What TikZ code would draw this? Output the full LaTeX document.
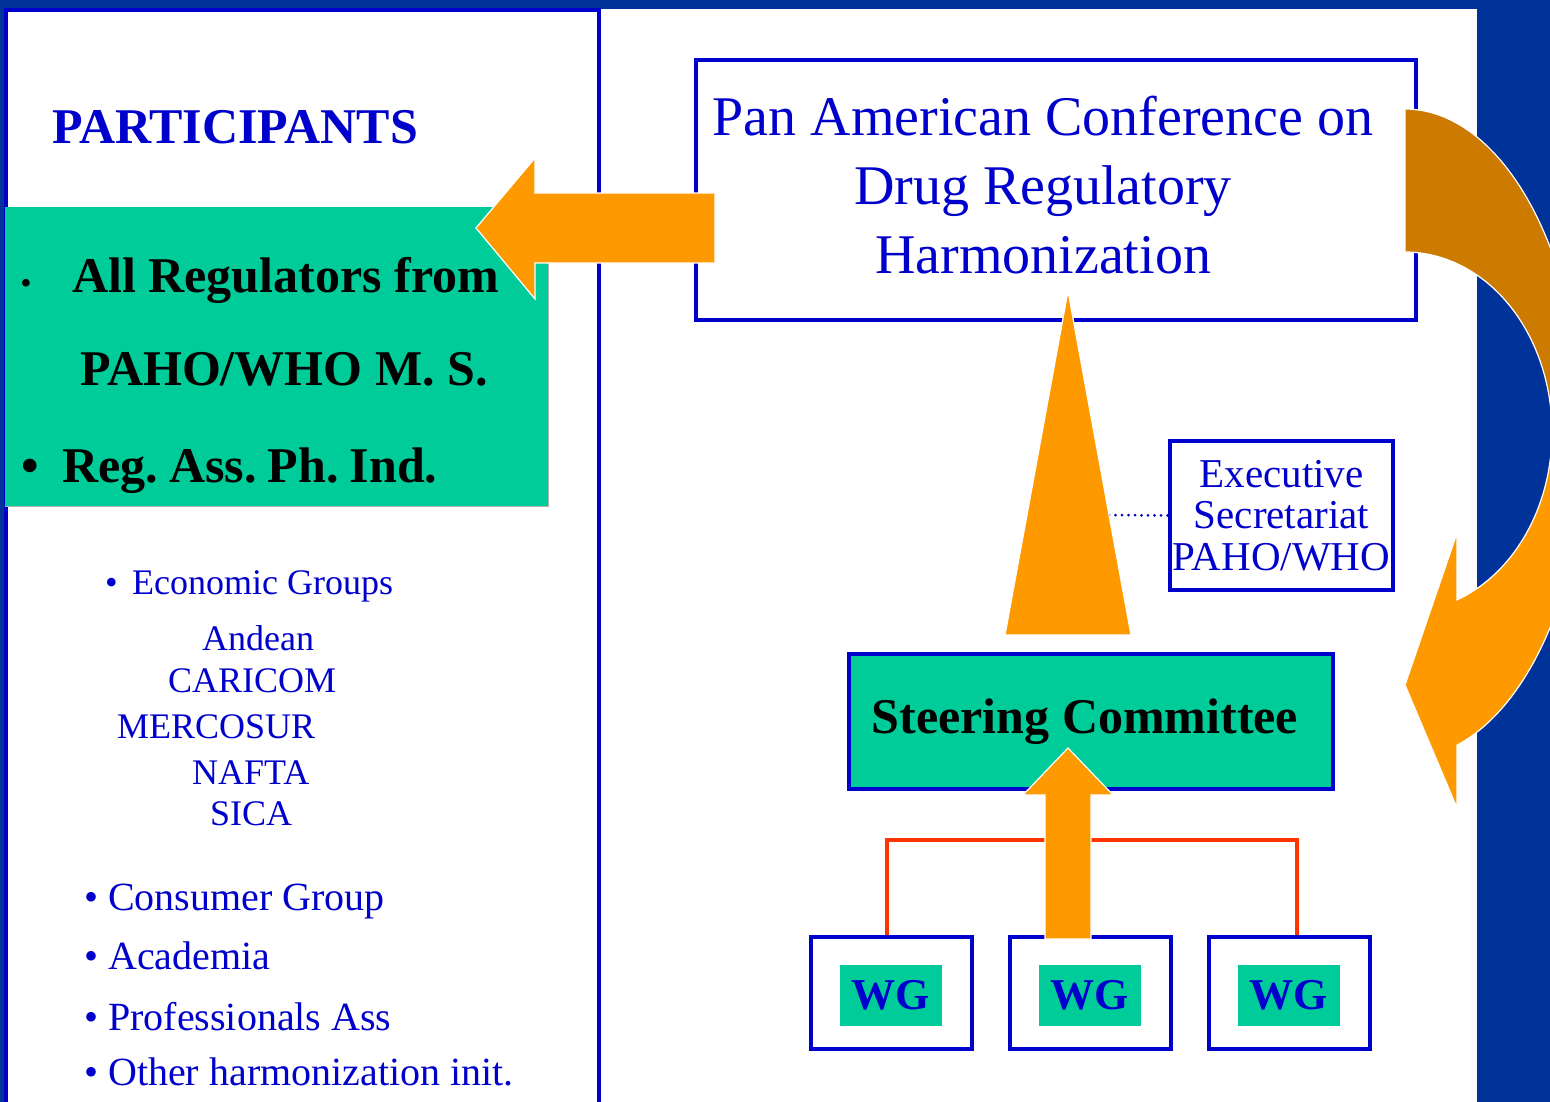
\documentclass[tikz,border=0pt]{standalone}
\usepackage{fontspec}
\setmainfont{Liberation Serif}
\usetikzlibrary{positioning}
\definecolor{bgblue}{HTML}{003399}
\definecolor{lineblue}{HTML}{0000CC}
\definecolor{tealgreen}{HTML}{00CC99}
\definecolor{arrorange}{HTML}{FF9900}
\definecolor{arrbrown}{HTML}{CC7A00}
\definecolor{linkred}{HTML}{FF3300}
\begin{document}
\begin{tikzpicture}
  [
  x=1pt,y=-1pt,
  framebox/.style={rectangle,draw=lineblue,line width=4pt,fill=white,inner sep=0pt},
  greenbox/.style={rectangle,fill=tealgreen,inner sep=0pt},
  blockarrow/.style={fill=arrorange,draw=white,line width=1.2pt},
  boldtxt/.style={inner sep=0pt,anchor=base west,font=\fontsize{50}{60}\selectfont\bfseries},
  grouptxt/.style={text=lineblue,inner sep=0pt,anchor=base west,font=\fontsize{36}{40}\selectfont},
  listtxt/.style={text=lineblue,inner sep=0pt,anchor=base west,font=\fontsize{40}{48}\selectfont}
  ]

  \useasboundingbox (0,0) rectangle (1550,1102);
  \clip (0,0) rectangle (1550,1102);
  \fill[bgblue] (0,0) rectangle (1550,1102);
  \fill[white] (5,9) rectangle (1477,1110);
  \draw[lineblue,line width=4pt] (6,1110) |- (599,10.5) -- (599,1110);

  \node (parttitle) [boldtxt,text=lineblue] at (52,144) {PARTICIPANTS};
  \node (regulators) [greenbox] at (276.5,356.5) [minimum width=543pt,minimum height=299pt] {};
  \draw[gray!60,line width=1pt] (regulators.north east) |- (regulators.south west);
  \node (regall) [boldtxt] at (21,292) {\makebox[51pt][l]{\fontsize{28}{28}\selectfont •}All Regulators from};
  \node (pahoms) [boldtxt] at (80,385) {PAHO/WHO M. S.};
  \node (regass) [boldtxt] at (21,482) {\spaceskip=0.14em\relax\makebox[41pt][l]{•}Reg. Ass. Ph. Ind.};

  \node (econ)     [grouptxt] at (105,594) {\makebox[27pt][l]{•}Economic Groups};
  \node (andean)   [grouptxt] at (202,650) {Andean};
  \node (caricom)  [grouptxt] at (168,692) {CARICOM};
  \node (mercosur) [grouptxt] at (117,738) {MERCOSUR};
  \node (nafta)    [grouptxt] at (192,784) {NAFTA};
  \node (sica)     [grouptxt] at (210,825) {SICA};
  \node (consumer) [listtxt] at (84,910)  {\makebox[24pt][l]{•}Consumer Group};
  \node (academia) [listtxt] at (84,969)  {\makebox[24pt][l]{•}Academia};
  \node (profass)  [listtxt] at (84,1030) {\makebox[24pt][l]{•}Professionals Ass};
  \node (othinit)  [listtxt] at (84,1085) {\makebox[24pt][l]{•}Other harmonization init.};

  \node (conf) [framebox] at (1056,190) [minimum width=720pt,minimum height=260pt] {};
  \node (conftext) [text=lineblue,align=center,inner sep=0pt] at (1043,185)
  [font=\fontsize{56}{69}\selectfont] {
    Pan American Conference on\\Drug Regulatory\\Harmonization
  };

  \draw[blockarrow] (715,193) -- (535,193) -- (535,158) -- (476,228)
    -- (535,299) -- (535,263) -- (715,263) -- cycle;

  \node (exsec) [framebox,align=center,text=lineblue] at (1281.5,515.5)
  [minimum width=223pt,minimum height=149pt,font=\fontsize{41}{41.5}\selectfont] {
    Executive\\Secretariat\\PAHO/WHO
  };
  \coordinate (trieast) at (1109,515);
  \draw[lineblue,line width=3pt,line cap=round,dash pattern=on 0pt off 6.5pt] (trieast) -- (exsec.west);
  \draw[blockarrow] (1068,291) -- (1131,635) -- (1005,635) -- cycle;

  \node (steer) [framebox,fill=tealgreen] at (1091,721.5)
  [minimum width=484pt,minimum height=135pt,font=\fontsize{50}{60}\selectfont\bfseries] {Steering Committee\hspace*{12pt}};

  \node (wg1) [framebox] at (891,993) [minimum width=161pt,minimum height=112pt] {};
  \node (wg2) [framebox] [right=34pt of wg1] [minimum width=161pt,minimum height=112pt] {};
  \node (wg3) [framebox] [right=34pt of wg2] [minimum width=161pt,minimum height=112pt] {};
  \foreach \i in {1,2,3} {
    \node (wgtag\i) [greenbox,text=lineblue] at ([yshift=-2.5pt]wg\i.center)
    [minimum width=102pt,minimum height=61pt,font=\fontsize{44}{48}\selectfont\bfseries] {WG};
  }
  \coordinate (bar) at (0,840);
  \draw[linkred,line width=3.5pt] ([xshift=-4pt]wg1.north) -- ([xshift=-4pt]wg1.north |- bar)
    -- ([xshift=8pt]wg3.north |- bar) -- ([xshift=8pt]wg3.north);
  \draw[blockarrow] (1068,748) -- (1113,795) -- (1091,795) -- (1091,939)
    -- (1045,939) -- (1045,795) -- (1023,795) -- cycle;

  \draw[blockarrow,fill=arrbrown]
    plot[domain=90:0,samples=50,variable=\t] ({1405+178*cos(\t)},{437-328*sin(\t)})
    -- plot[domain=0:90,samples=50,variable=\t] ({1405+147*cos(\t)},{432-180*sin(\t)}) -- cycle;
  \draw[blockarrow]
    plot[domain=0:-73.2,samples=50,variable=\t] ({1405+180*cos(\t)},{437-322*sin(\t)})
    -- (1457,808) -- (1405,685) -- (1457,533)
    -- plot[domain=-69.3:0,samples=50,variable=\t] ({1405+147*cos(\t)},{432-179.5*sin(\t)}) -- cycle;
\end{tikzpicture}
\end{document}
